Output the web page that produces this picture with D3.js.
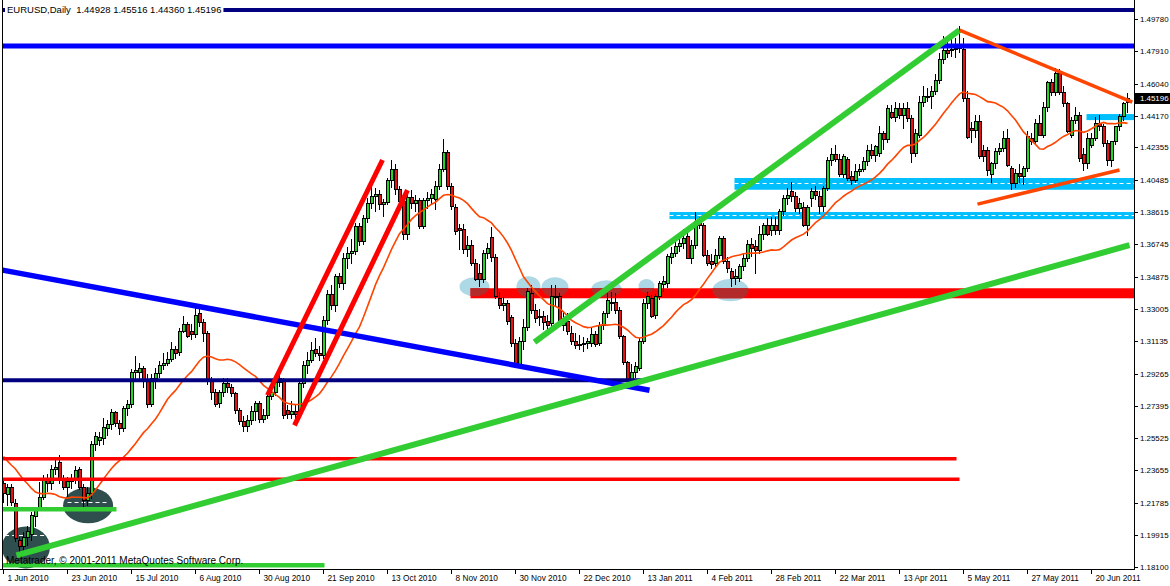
<!DOCTYPE html>
<html><head><meta charset="utf-8">
<script src="https://cdn.jsdelivr.net/npm/d3@7"></script>
<style>
body{margin:0;background:#fff}
svg{display:block}
text{font-family:"Liberation Sans",Arial,sans-serif}
</style>
</head><body>
<svg id="c" width="1170" height="586"></svg>
<script>
// ---------------- DATA ----------------
const symbolTitle = "EURUSD,Daily";
const lastBar = [1.44928, 1.45516, 1.44360, 1.45196];
const copyright = "Metatrader, \u00A9 2001-2011 MetaQuotes Software Corp.";

const dateLabels = ["1 Jun 2010","23 Jun 2010","15 Jul 2010","6 Aug 2010","30 Aug 2010","21 Sep 2010",
  "13 Oct 2010","8 Nov 2010","30 Nov 2010","22 Dec 2010","13 Jan 2011","4 Feb 2011","28 Feb 2011",
  "22 Mar 2011","13 Apr 2011","5 May 2011","27 May 2011","20 Jun 2011"];
const dateLabelStep = 16;

const priceTicks = [1.49780,1.47910,1.46040,1.44170,1.42355,1.40485,1.38615,1.36745,1.34875,
  1.33005,1.31135,1.29265,1.27395,1.25525,1.23655,1.21785,1.19915,1.18100];

const openP = [
1.2290,1.2228,1.2270,1.2175,1.1960,1.1925,1.1975,1.1995,1.2100,1.2150,
1.2210,1.2320,1.2290,1.2370,1.2410,1.2310,1.2265,1.2300,1.2320,1.2370,
1.2270,1.2190,1.2230,1.2515,1.2540,1.2550,1.2610,1.2630,1.2700,1.2640,
1.2610,1.2725,1.2745,1.2935,1.2935,1.2955,1.2885,1.2745,1.2900,1.2925,
1.2975,1.2985,1.3005,1.3065,1.3050,1.3170,1.3210,1.3170,1.3155,1.3275,
1.3220,1.3160,1.2880,1.2815,1.2755,1.2815,1.2870,1.2845,1.2810,1.2710,
1.2650,1.2620,1.2655,1.2705,1.2755,1.2660,1.2685,1.2795,1.2815,1.2875,
1.2890,1.2715,1.2690,1.2705,1.2690,1.2870,1.2975,1.3000,1.3065,1.3045,
1.3030,1.3235,1.3385,1.3320,1.3490,1.3450,1.3590,1.3620,1.3630,1.3780,
1.3690,1.3825,1.3910,1.3950,1.3960,1.3905,1.3915,1.4045,1.4110,1.3990,
1.3920,1.3730,1.3945,1.3910,1.3930,1.3780,1.3925,1.3940,1.3935,1.4010,
1.4110,1.4205,1.4010,1.3890,1.3766,1.3760,1.3645,1.3670,1.3565,1.3505,
1.3470,1.3620,1.3715,1.3600,1.3360,1.3322,1.3332,1.3250,1.3100,1.2975,
1.3110,1.3195,1.3390,1.3293,1.3255,1.3255,1.3225,1.3215,1.3370,1.3370,
1.3205,1.3225,1.3160,1.3110,1.3090,1.3095,1.3100,1.3100,1.3150,1.3100,
1.3206,1.3273,1.3340,1.3340,1.3293,1.3140,1.2990,1.2890,1.2935,1.2955,
1.3110,1.3331,1.3360,1.3265,1.3370,1.3440,1.3447,1.3598,1.3621,1.3663,
1.3679,1.3717,1.3592,1.3669,1.3810,1.3785,1.3611,1.3575,1.3563,1.3611,
1.3708,1.3573,1.3515,1.3476,1.3476,1.3544,1.3592,1.3673,1.3660,1.3640,
1.3731,1.3781,1.3755,1.3785,1.3756,1.3862,1.3939,1.3978,1.3949,1.3881,
1.3887,1.3785,1.3939,1.3978,1.3949,1.3891,1.3997,1.4161,1.4196,1.4165,
1.4078,1.4165,1.4065,1.4045,1.4094,1.4108,1.4152,1.4215,1.4190,1.4200,
1.4316,1.4281,1.4436,1.4409,1.4461,1.4422,1.4461,1.4403,1.4200,1.4306,
1.4496,1.4530,1.4528,1.4557,1.4625,1.4744,1.4798,1.4800,1.4802,1.4806,
1.4802,1.4519,1.4345,1.4335,1.4387,1.4219,1.4219,1.4080,1.4140,1.4214,
1.4229,1.4287,1.4113,1.4027,1.4084,1.4065,1.4113,1.4287,1.4268,1.4374,
1.4306,1.4466,1.4609,1.4551,1.4663,1.4551,1.4490,1.4306,1.4393,1.4422,
1.4195,1.4142,1.4248,1.4287,1.4374,1.4355,1.4260,1.4162,1.4268,1.4355,
1.4413,1.44928];

const highP = [
1.2315,1.2290,1.2285,1.2200,1.1980,1.2010,1.2045,1.2125,1.2150,1.2300,
1.2340,1.2345,1.2395,1.2425,1.2455,1.2340,1.2325,1.2345,1.2390,1.2385,
1.2285,1.2270,1.2535,1.2590,1.2590,1.2670,1.2660,1.2720,1.2710,1.2660,
1.2740,1.2775,1.2955,1.3030,1.2985,1.2970,1.2925,1.2925,1.2960,1.3000,
1.3045,1.3050,1.3110,1.3085,1.3190,1.3260,1.3225,1.3215,1.3330,1.3300,
1.3240,1.3170,1.2905,1.2835,1.2830,1.2900,1.2900,1.2865,1.2820,1.2730,
1.2680,1.2685,1.2740,1.2770,1.2770,1.2720,1.2805,1.2845,1.2910,1.2920,
1.2900,1.2745,1.2765,1.2750,1.2890,1.3000,1.3050,1.3110,1.3130,1.3085,
1.3260,1.3410,1.3440,1.3500,1.3510,1.3625,1.3660,1.3705,1.3800,1.3795,
1.3845,1.3945,1.4030,1.4000,1.3990,1.3935,1.4060,1.4160,1.4140,1.4010,
1.3940,1.3980,1.3990,1.3960,1.3945,1.3945,1.3975,1.3995,1.4040,1.4140,
1.4282,1.4220,1.4030,1.3905,1.3790,1.3790,1.3720,1.3700,1.3590,1.3560,
1.3640,1.3680,1.3775,1.3620,1.3400,1.3370,1.3350,1.3265,1.3125,1.3140,
1.3240,1.3420,1.3440,1.3330,1.3300,1.3290,1.3265,1.3440,1.3440,1.3395,
1.3280,1.3275,1.3200,1.3160,1.3150,1.3140,1.3135,1.3190,1.3175,1.3225,
1.3290,1.3390,1.3400,1.3395,1.3310,1.3150,1.3000,1.2980,1.2995,1.3130,
1.3355,1.3400,1.3380,1.3385,1.3460,1.3490,1.3620,1.3660,1.3700,1.3725,
1.3760,1.3740,1.3700,1.3860,1.3835,1.3800,1.3640,1.3620,1.3650,1.3720,
1.3720,1.3600,1.3540,1.3530,1.3560,1.3620,1.3700,1.3710,1.3700,1.3780,
1.3800,1.3825,1.3830,1.3835,1.3880,1.3960,1.4000,1.4035,1.3975,1.3940,
1.3920,1.3900,1.4000,1.4010,1.3980,1.4010,1.4180,1.4230,1.4250,1.4195,
1.4195,1.4180,1.4100,1.4140,1.4140,1.4180,1.4250,1.4255,1.4250,1.4360,
1.4330,1.4480,1.4480,1.4500,1.4490,1.4490,1.4500,1.4420,1.4340,1.4530,
1.4590,1.4580,1.4590,1.4660,1.4780,1.4880,1.4860,1.4880,1.4870,1.4935,
1.4870,1.4560,1.4380,1.4420,1.4425,1.4250,1.4240,1.4150,1.4230,1.4260,
1.4330,1.4340,1.4130,1.4110,1.4140,1.4130,1.4330,1.4320,1.4400,1.4420,
1.4500,1.4620,1.4630,1.4695,1.4690,1.4590,1.4500,1.4410,1.4470,1.4440,
1.4230,1.4320,1.4320,1.4410,1.4420,1.4370,1.4280,1.4270,1.4360,1.4430,
1.4500,1.45516];

const lowP = [
1.2175,1.2160,1.2160,1.1950,1.1876,1.1880,1.1930,1.1960,1.2040,1.2140,
1.2195,1.2240,1.2250,1.2340,1.2290,1.2250,1.2210,1.2260,1.2285,1.2255,
1.2155,1.2160,1.2200,1.2480,1.2510,1.2515,1.2565,1.2600,1.2620,1.2570,
1.2590,1.2680,1.2725,1.2880,1.2890,1.2845,1.2725,1.2735,1.2835,1.2900,
1.2945,1.2970,1.2995,1.3010,1.3030,1.3160,1.3135,1.3120,1.3130,1.3195,
1.3110,1.2860,1.2775,1.2735,1.2730,1.2790,1.2815,1.2790,1.2690,1.2630,
1.2588,1.2590,1.2630,1.2650,1.2640,1.2640,1.2665,1.2775,1.2795,1.2850,
1.2665,1.2665,1.2665,1.2660,1.2685,1.2840,1.2925,1.2990,1.3020,1.3000,
1.3010,1.3210,1.3295,1.3285,1.3420,1.3410,1.3530,1.3560,1.3610,1.3665,
1.3670,1.3800,1.3880,1.3860,1.3870,1.3830,1.3900,1.4000,1.3960,1.3880,
1.3700,1.3700,1.3880,1.3860,1.3760,1.3760,1.3880,1.3900,1.3870,1.3990,
1.4090,1.3990,1.3870,1.3730,1.3640,1.3620,1.3600,1.3550,1.3460,1.3430,
1.3450,1.3590,1.3570,1.3355,1.3300,1.3290,1.3210,1.3080,1.2960,1.2965,
1.3060,1.3170,1.3270,1.3220,1.3200,1.3180,1.3170,1.3190,1.3320,1.3200,
1.3170,1.3150,1.3090,1.3070,1.3060,1.3050,1.3070,1.3080,1.3080,1.3085,
1.3180,1.3250,1.3290,1.3270,1.3125,1.2975,1.2880,1.2860,1.2900,1.2940,
1.3100,1.3300,1.3250,1.3240,1.3350,1.3400,1.3420,1.3560,1.3600,1.3630,
1.3650,1.3590,1.3560,1.3650,1.3760,1.3600,1.3550,1.3530,1.3540,1.3590,
1.3560,1.3510,1.3430,1.3440,1.3455,1.3520,1.3570,1.3600,1.3505,1.3620,
1.3700,1.3720,1.3720,1.3730,1.3730,1.3840,1.3900,1.3920,1.3860,1.3850,
1.3775,1.3720,1.3890,1.3930,1.3850,1.3860,1.3980,1.4130,1.4150,1.4065,
1.4060,1.4040,1.4020,1.4030,1.4070,1.4090,1.4130,1.4170,1.4150,1.4180,
1.4220,1.4260,1.4400,1.4380,1.4400,1.4340,1.4380,1.4142,1.4180,1.4290,
1.4470,1.4500,1.4460,1.4540,1.4600,1.4720,1.4750,1.4760,1.4750,1.4780,
1.4500,1.4285,1.4260,1.4290,1.4170,1.4150,1.4070,1.4027,1.4110,1.4190,
1.4210,1.4120,1.3988,1.4000,1.4030,1.4020,1.4090,1.4250,1.4250,1.4300,
1.4290,1.4440,1.4530,1.4530,1.4540,1.4470,1.4320,1.4290,1.4370,1.4150,
1.4100,1.4110,1.4230,1.4270,1.4330,1.4240,1.4130,1.4120,1.4250,1.4330,
1.4390,1.44360];

const closeP = [
1.2230,1.2270,1.2180,1.1970,1.1925,1.1975,1.2015,1.2105,1.2140,1.2210,
1.2320,1.2290,1.2370,1.2385,1.2310,1.2265,1.2300,1.2320,1.2365,1.2270,
1.2190,1.2235,1.2515,1.2560,1.2555,1.2615,1.2630,1.2700,1.2640,1.2610,
1.2725,1.2745,1.2935,1.2945,1.2955,1.2880,1.2745,1.2900,1.2925,1.2975,
1.2985,1.3005,1.3065,1.3045,1.3170,1.3210,1.3140,1.3150,1.3265,1.3220,
1.3160,1.2880,1.2815,1.2750,1.2815,1.2870,1.2845,1.2810,1.2710,1.2650,
1.2620,1.2655,1.2705,1.2755,1.2660,1.2685,1.2795,1.2815,1.2875,1.2895,
1.2685,1.2690,1.2705,1.2690,1.2870,1.2975,1.3000,1.3060,1.3045,1.3030,
1.3235,1.3385,1.3320,1.3490,1.3450,1.3590,1.3620,1.3630,1.3780,1.3690,
1.3825,1.3910,1.3950,1.3965,1.3905,1.3915,1.4045,1.4110,1.3990,1.3920,
1.3730,1.3945,1.3910,1.3930,1.3780,1.3925,1.3940,1.3960,1.4010,1.4110,
1.4205,1.4010,1.3895,1.3750,1.3756,1.3645,1.3670,1.3565,1.3470,1.3470,
1.3620,1.3650,1.3600,1.3370,1.3322,1.3332,1.3225,1.3100,1.2975,1.3110,
1.3195,1.3400,1.3290,1.3245,1.3252,1.3220,1.3205,1.3370,1.3365,1.3210,
1.3230,1.3170,1.3110,1.3090,1.3095,1.3100,1.3110,1.3150,1.3095,1.3206,
1.3273,1.3350,1.3335,1.3293,1.3140,1.2990,1.2890,1.2935,1.2965,1.3110,
1.3331,1.3370,1.3255,1.3370,1.3447,1.3457,1.3605,1.3621,1.3663,1.3679,
1.3708,1.3592,1.3669,1.3808,1.3785,1.3611,1.3563,1.3560,1.3611,1.3708,
1.3573,1.3534,1.3476,1.3486,1.3544,1.3592,1.3673,1.3650,1.3640,1.3731,
1.3781,1.3733,1.3785,1.3756,1.3862,1.3939,1.3959,1.3949,1.3881,1.3910,
1.3785,1.3887,1.3978,1.3959,1.3891,1.3997,1.4161,1.4196,1.4165,1.4078,
1.4180,1.4055,1.4045,1.4094,1.4108,1.4152,1.4215,1.4190,1.4239,1.4316,
1.4281,1.4461,1.4409,1.4461,1.4422,1.4461,1.4403,1.4200,1.4316,1.4496,
1.4528,1.4532,1.4557,1.4625,1.4744,1.4798,1.4779,1.4802,1.4806,1.4815,
1.4519,1.4295,1.4335,1.4387,1.4181,1.4181,1.4104,1.4140,1.4214,1.4229,
1.4287,1.4133,1.4027,1.4084,1.4065,1.4113,1.4297,1.4268,1.4374,1.4306,
1.4466,1.4609,1.4551,1.4663,1.4551,1.4490,1.4326,1.4393,1.4422,1.4170,
1.4142,1.4287,1.4287,1.4374,1.4355,1.4260,1.4162,1.4268,1.4355,1.4413,
1.4490,1.45196];

// closes of the 19 sessions before the first visible bar (for the moving average)
const priorCloses = [1.2800,1.2650,1.2410,1.2550,1.2590,1.2485,1.2640,1.2565,1.2360,1.2370,
  1.2225,1.2410,1.2490,1.2570,1.2365,1.2365,1.2200,1.2370,1.2275];
const maPeriod = 20;

// chart objects, in (bar index, price)
const fullLevels = [1.5030, 1.4822];
const segLevels = [[-1,161,1.2888],[-1,238.25,1.2433],[-1,239,1.2315],[-1,28.25,1.2141],[-1,80.25,1.1817]];
const trendLines = [
  [-0.25,1.3525,161.5,1.2830],
  [3.25,1.1875,281.5,1.3669],
  [132.75,1.3108,239,1.4914],
  [66,1.2801,94.75,1.4162],
  [72.75,1.2627,101,1.3988],
  [239,1.4914,282.2,1.4497],
  [243.5,1.3907,279,1.4104]];
const zones = [[116.75,283,1.3420,1.3362],[182.75,283,1.4058,1.3990],[166.5,283,1.3861,1.3820],[270.75,283,1.4428,1.4393]];
const zoneDashLevels = [null,1.4028,1.3843,null];
const lightEllipses = [[114,1.3484,121.5,1.3374],[128.25,1.3490,134.25,1.3368],[134.5,1.3484,141.25,1.3368],
  [147,1.3467,154.5,1.3368],[158.75,1.3473,162.75,1.3392],[177.25,1.3473,186.25,1.3345]];
const darkEllipses = [[-0.4,1.2042,11.6,1.1799],[14.9,1.2268,27.4,1.2060]];
const darkDashes = [[0.4,10.4,1.1990],[16,26.5,1.2181]];

// ---------------- DRAW ----------------
const plotL = 2, plotR = 1134, plotB = 569;
const n = closeP.length;
const x = d3.scaleLinear().domain([0, n-1]).range([3.5, 3.5 + 4*(n-1)]);
const y = d3.scaleLinear().domain([1.181, 1.4978]).range([566.5, 19]);
const svg = d3.select("#c");
const defs = svg.append("defs");
defs.append("clipPath").attr("id","plot").append("rect")
  .attr("x",plotL).attr("y",0).attr("width",plotR-plotL).attr("height",plotB);
const g = svg.append("g").attr("clip-path","url(#plot)");

const fullLevelStyle = [["#000080",4],["#0000ff",5]];
const segStyle = [["#000080",4],["#ff0000",3.5],["#ff0000",3.5],["#32cd32",4.5],["#32cd32",4.5]];
const trendStyle = [["#0000ff",5.5],["#32cd32",6],["#32cd32",6],["#ff0000",5],["#ff0000",5],["#ff4500",3.5],["#ff4500",3.5]];
const zoneColor = ["#ff0000","#00bfff","#00bfff","#00bfff"];

function ell(sel, d){
  const x1=x(d[0]), x2=x(d[2]), y1=y(d[1]), y2=y(d[3]);
  sel.attr("cx",(x1+x2)/2).attr("cy",(y1+y2)/2).attr("rx",Math.abs(x2-x1)/2).attr("ry",Math.abs(y2-y1)/2);
}
// background objects
g.selectAll(".de").data(darkEllipses).enter().append("ellipse").attr("fill","#2f4f4f").each(function(d){ell(d3.select(this),d);});
g.selectAll(".le").data(lightEllipses).enter().append("ellipse").attr("fill","#add8e6").each(function(d){ell(d3.select(this),d);});
zones.forEach((z,i)=>{
  g.append("rect").attr("x",x(z[0])).attr("width",x(z[1])-x(z[0]))
   .attr("y",y(z[2])).attr("height",y(z[3])-y(z[2])).attr("fill",zoneColor[i]);
  if(zoneDashLevels[i]!==null){
    g.append("line").attr("x1",x(z[0])).attr("x2",x(z[1])).attr("y1",Math.round(y(zoneDashLevels[i]))+0.5).attr("y2",Math.round(y(zoneDashLevels[i]))+0.5)
     .attr("stroke","#fff").attr("stroke-width",1).attr("stroke-dasharray","4,3");
  }
});
// overlap of light ellipses with the red zone
const z0 = zones[0];
defs.append("clipPath").attr("id","zclip").append("rect").attr("x",x(z0[0])).attr("width",x(z0[1])-x(z0[0]))
  .attr("y",y(z0[2])).attr("height",y(z0[3])-y(z0[2]));
g.append("g").attr("clip-path","url(#zclip)").selectAll("ellipse").data(lightEllipses).enter().append("ellipse")
  .attr("fill","#b22a2a").each(function(d){ell(d3.select(this),d);});
darkDashes.forEach(d=>{
  g.append("line").attr("x1",x(d[0])).attr("x2",x(d[1])).attr("y1",Math.round(y(d[2]))+0.5).attr("y2",Math.round(y(d[2]))+0.5)
   .attr("stroke","#fff").attr("stroke-width",1).attr("stroke-dasharray","4,3");
});

// candles
const cg = g.append("g").attr("shape-rendering","crispEdges");
d3.range(n).forEach(i=>{
  const c = Math.round(x(i)-0.5);
  cg.append("line").attr("x1",c+0.5).attr("x2",c+0.5).attr("y1",y(highP[i])).attr("y2",y(lowP[i])).attr("stroke","#000");
  const top = y(Math.max(openP[i],closeP[i])), bot = y(Math.min(openP[i],closeP[i]));
  const up = closeP[i] >= openP[i];
  cg.append("rect").attr("x",c-1).attr("width",3).attr("y",top).attr("height",Math.max(1,bot-top))
    .attr("fill", up ? "#22d622" : "#e81010").attr("stroke","#000").attr("stroke-width",1);
});

// moving average
const allC = priorCloses.concat(closeP);
const ma = closeP.map((v,i)=> d3.mean(allC.slice(i, i+maPeriod)));
g.append("path").datum(ma).attr("fill","none").attr("stroke","#ff4500").attr("stroke-width",1.6)
  .attr("d", d3.line().x((d,i)=>x(i)).y(d=>y(d)));

// lines
fullLevels.forEach((p,i)=>{
  g.append("line").attr("x1",0).attr("x2",plotR).attr("y1",y(p)).attr("y2",y(p))
   .attr("stroke",fullLevelStyle[i][0]).attr("stroke-width",fullLevelStyle[i][1]);
});
segLevels.forEach((s,i)=>{
  g.append("line").attr("x1",x(s[0])).attr("x2",x(s[1])).attr("y1",y(s[2])).attr("y2",y(s[2]))
   .attr("stroke",segStyle[i][0]).attr("stroke-width",segStyle[i][1]);
});
trendLines.forEach((t,i)=>{
  g.append("line").attr("x1",x(t[0])).attr("y1",y(t[1])).attr("x2",x(t[2])).attr("y2",y(t[3]))
   .attr("stroke",trendStyle[i][0]).attr("stroke-width",trendStyle[i][1]);
});

// frame & axes
svg.append("line").attr("x1",2.5).attr("x2",2.5).attr("y1",0).attr("y2",plotB).attr("stroke","#000");
svg.append("line").attr("x1",plotR+0.5).attr("x2",plotR+0.5).attr("y1",0).attr("y2",plotB+0.5).attr("stroke","#000");
svg.append("line").attr("x1",0).attr("x2",plotR+1).attr("y1",plotB+0.5).attr("y2",plotB+0.5).attr("stroke","#000");

priceTicks.forEach(p=>{
  const yy = Math.round(y(p))+0.5;
  svg.append("line").attr("x1",plotR+1).attr("x2",plotR+4).attr("y1",yy).attr("y2",yy).attr("stroke","#000");
  svg.append("text").attr("x",plotR+6).attr("y",yy).attr("dy","0.35em").attr("font-size",7.9).attr("fill","#000").text(p.toFixed(5));
});
// current price box
const cy = y(lastBar[3]);
svg.append("rect").attr("x",plotR+1).attr("y",Math.round(cy)-5).attr("width",1170-plotR-1).attr("height",11).attr("fill","#000");
svg.append("text").attr("x",plotR+6).attr("y",Math.round(cy)+0.5).attr("dy","0.35em").attr("font-size",7.9).attr("fill","#fff").text(lastBar[3].toFixed(5));

dateLabels.forEach((lab,k)=>{
  const xx = Math.round(x(k*dateLabelStep)-0.5)+0.5;
  svg.append("line").attr("x1",xx).attr("x2",xx).attr("y1",plotB+1).attr("y2",plotB+5).attr("stroke","#000");
  svg.append("text").attr("x",xx+4).attr("y",581).attr("font-size",8.3).attr("fill","#000").text(lab);
});

// header
const ht = svg.append("text").attr("x",7).attr("y",13).attr("font-size",9.5).attr("fill","#000")
  .attr("xml:space","preserve").style("white-space","pre")
  .text(symbolTitle + "  " + lastBar.map(v=>v.toFixed(5)).join(" "));
const bb = ht.node().getBBox();
svg.insert("rect", "text").attr("x",5).attr("y",3).attr("width",bb.width+4).attr("height",13).attr("fill","#fff");
ht.raise();

svg.append("text").attr("x",6).attr("y",564).attr("font-size",10).attr("fill","#000").text(copyright);
</script>
</body></html>
